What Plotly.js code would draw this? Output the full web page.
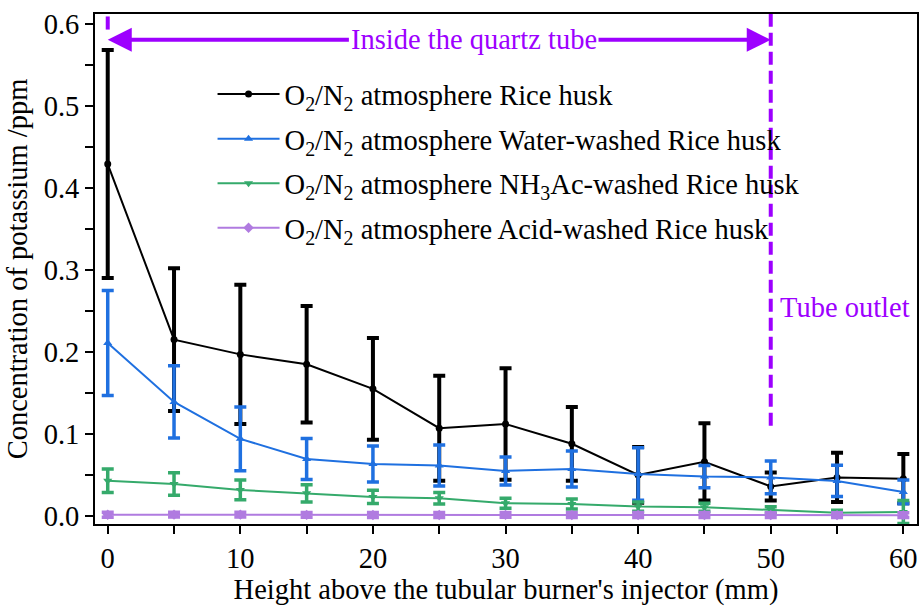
<!DOCTYPE html>
<html>
<head>
<meta charset="utf-8">
<script src="https://cdn.plot.ly/plotly-3.0.1.min.js"></script>
<style>html,body{margin:0;padding:0;background:#fff;}#chart{width:919px;height:606px;}</style>
</head>
<body>
<div id="chart"></div>
<script>
const heights = [0, 5, 10, 15, 20, 25, 30, 35, 40, 45, 50, 55, 60];

const riceHusk = [0.429, 0.215, 0.197, 0.185, 0.155, 0.107, 0.112, 0.088, 0.050, 0.066, 0.036, 0.047, 0.0455];
const riceHuskErr = [0.139, 0.087, 0.085, 0.071, 0.062, 0.064, 0.068, 0.045, 0.034, 0.047, 0.017, 0.030, 0.030];

const waterWashed = [0.211, 0.139, 0.094, 0.0695, 0.0634, 0.0614, 0.0549, 0.0573, 0.0512, 0.048, 0.047, 0.0427, 0.0293];
const waterWashedErr = [0.064, 0.044, 0.039, 0.025, 0.022, 0.025, 0.017, 0.022, 0.032, 0.0135, 0.020, 0.019, 0.0145];

const nh3acWashed = [0.043, 0.039, 0.0317, 0.0276, 0.0232, 0.0215, 0.0155, 0.0146, 0.0114, 0.0106, 0.0073, 0.004, 0.0049];
const nh3acWashedErr = [0.0144, 0.0136, 0.012, 0.0105, 0.008, 0.007, 0.006, 0.006, 0.0057, 0.005, 0.004, 0.003, 0.014];

const acidWashed = [0.0015, 0.0016, 0.0016, 0.0013, 0.0012, 0.0012, 0.0013, 0.0012, 0.0011, 0.0011, 0.0010, 0.0010, 0.0010];
const acidWashedErr = [0.003, 0.003, 0.003, 0.003, 0.003, 0.003, 0.003, 0.003, 0.003, 0.003, 0.003, 0.003, 0.003];

const seriesNames = [
  'O<sub>2</sub>/N<sub>2</sub> atmosphere Rice husk',
  'O<sub>2</sub>/N<sub>2</sub> atmosphere Water-washed Rice husk',
  'O<sub>2</sub>/N<sub>2</sub> atmosphere NH<sub>3</sub>Ac-washed Rice husk',
  'O<sub>2</sub>/N<sub>2</sub> atmosphere Acid-washed Rice husk'
];

const FONT = 'Liberation Serif, Times New Roman, serif';
const FS = 28.5;
const PURPLE = '#9d00ff';

function mk(name, group, y, err, color, symbol, msize, lw, ethick, ewidth) {
  return {
    x: heights, y: y, name: name, legendgroup: group, type: 'scatter', mode: 'lines+markers',
    line: {color: color, width: lw},
    marker: {color: color, symbol: symbol, size: msize},
    error_y: {type: 'data', array: err, visible: true, color: color, thickness: ethick, width: ewidth}
  };
}

const data = [
  mk(seriesNames[0], 'g1', riceHusk, riceHuskErr, '#000000', 'circle', 7, 2, 4, 6),
  mk(seriesNames[1], 'g2', waterWashed, waterWashedErr, '#1f70e0', 'triangle-up', 8, 2, 3.5, 6),
  mk(seriesNames[2], 'g3', nh3acWashed, nh3acWashedErr, '#35aa6b', 'triangle-down', 8, 2, 3.5, 6),
  mk(seriesNames[3], 'g4', acidWashed, acidWashedErr, '#b07be0', 'diamond', 8, 2, 3.5, 6)
];

const layout = {
  width: 919, height: 606,
  margin: {l: 95, r: 2, t: 14, b: 82},
  paper_bgcolor: '#ffffff', plot_bgcolor: '#ffffff',
  font: {family: FONT, size: FS, color: '#000'},
  showlegend: true,
  legend: {
    x: 0.143, y: 0.892, xanchor: 'left', yanchor: 'top',
    bgcolor: 'rgba(0,0,0,0)', borderwidth: 0,
    font: {family: FONT, size: FS, color: '#000'},
    itemwidth: 62, tracegroupgap: 4.5, traceorder: 'grouped'
  },
  xaxis: {
    range: [-0.96, 61.03], dtick: 10, tick0: 0,
    ticks: 'outside', ticklen: 8, tickwidth: 2, tickcolor: '#000',
    minor: {dtick: 5, ticks: 'outside', ticklen: 8, tickwidth: 2, tickcolor: '#000'},
    showline: true, linewidth: 2, linecolor: '#000', mirror: true,
    showgrid: false, zeroline: false,
    tickfont: {family: FONT, size: FS},
    title: {text: "Height above the tubular burner's injector (mm)", font: {family: FONT, size: FS}, standoff: 4}
  },
  yaxis: {
    range: [-0.0098, 0.612], dtick: 0.1, tick0: 0, tickformat: '.1f',
    ticks: 'outside', ticklen: 8, tickwidth: 2, tickcolor: '#000',
    minor: {dtick: 0.05, ticks: 'outside', ticklen: 8, tickwidth: 2, tickcolor: '#000'},
    showline: true, linewidth: 2, linecolor: '#000', mirror: true,
    showgrid: false, zeroline: false,
    tickfont: {family: FONT, size: FS},
    title: {text: 'Concentration of potassium /ppm', font: {family: FONT, size: FS}, standoff: 8}
  },
  shapes: [
    {type: 'line', xref: 'x', yref: 'y', x0: 50, x1: 50, y0: 0.11, y1: 0.612,
     line: {color: PURPLE, width: 4, dash: '13px,6px'}},
    {type: 'line', xref: 'x', yref: 'y', x0: 0, x1: 0, y0: 0.593, y1: 0.609,
     line: {color: PURPLE, width: 4}}
  ],
  annotations: [
    {x: 27.6, y: 0.5805, xref: 'x', yref: 'y', text: 'Inside the quartz tube', showarrow: false,
     font: {family: FONT, size: FS, color: PURPLE}},
    {x: 0, y: 0.5805, ax: 18.3, ay: 0.5805, xref: 'x', yref: 'y', axref: 'x', ayref: 'y',
     text: '', showarrow: true, arrowhead: 2, arrowsize: 1.2, arrowwidth: 4, arrowcolor: PURPLE, standoff: 0},
    {x: 50, y: 0.5805, ax: 36.9, ay: 0.5805, xref: 'x', yref: 'y', axref: 'x', ayref: 'y',
     text: '', showarrow: true, arrowhead: 2, arrowsize: 1.2, arrowwidth: 4, arrowcolor: PURPLE, standoff: 0},
    {x: 55.6, y: 0.2537, xref: 'x', yref: 'y', text: 'Tube outlet', showarrow: false,
     font: {family: FONT, size: FS, color: PURPLE}}
  ]
};

Plotly.newPlot('chart', data, layout, {displayModeBar: false, staticPlot: true});
</script>
</body>
</html>
